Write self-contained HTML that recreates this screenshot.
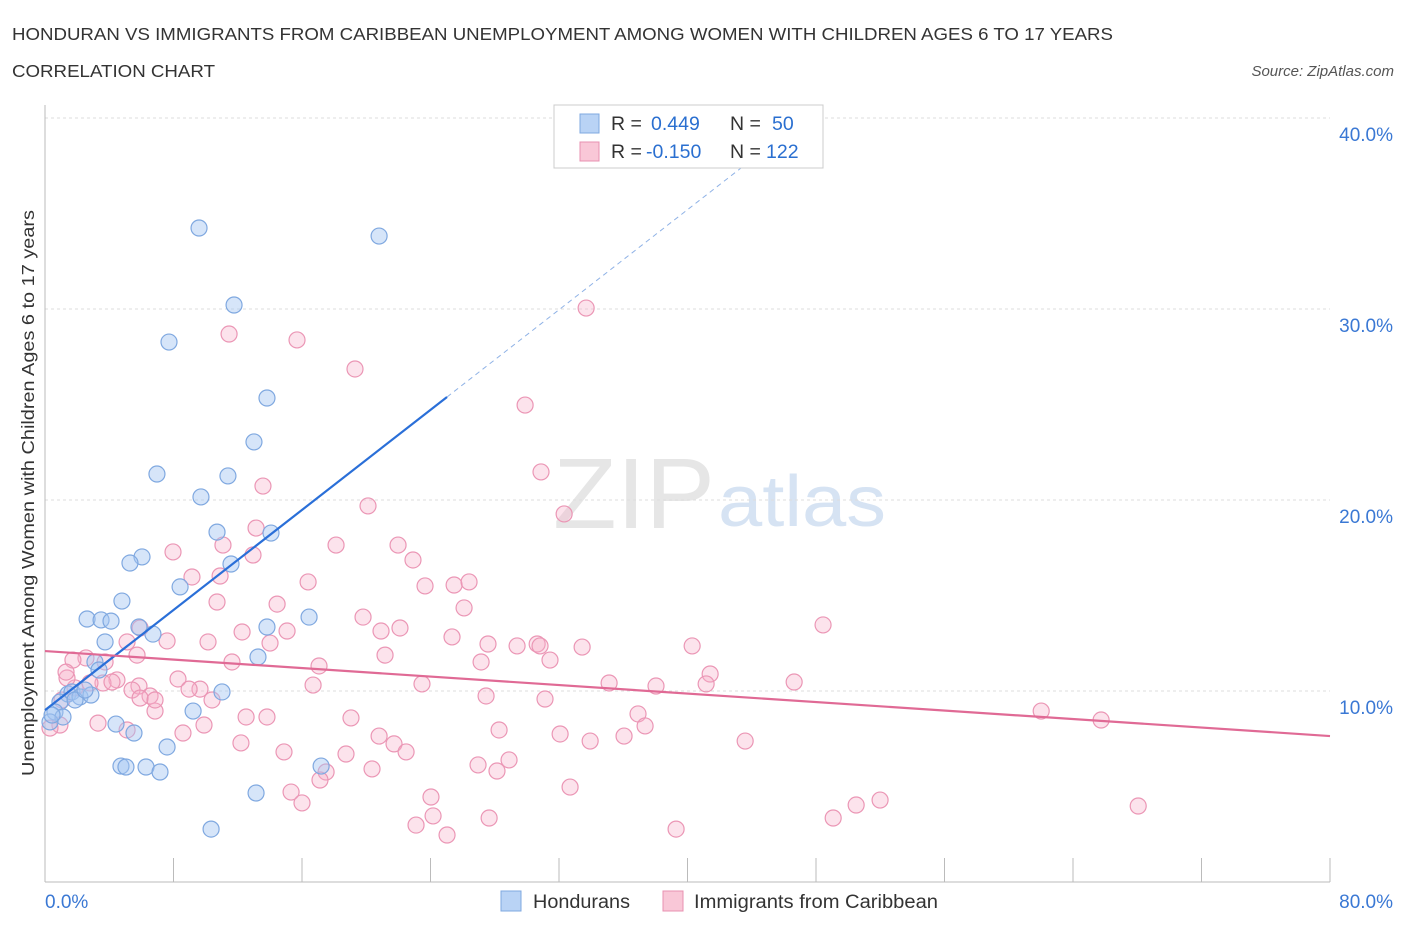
<!DOCTYPE html>
<html><head><meta charset="utf-8"><style>
body{margin:0;background:#fff;font-family:"Liberation Sans",sans-serif}
svg text{font-family:"Liberation Sans",sans-serif}
</style></head><body>
<svg id="c" width="1406" height="930">
<text x="12" y="40" font-size="17.5" fill="#333" textLength="1101" lengthAdjust="spacingAndGlyphs">HONDURAN VS IMMIGRANTS FROM CARIBBEAN UNEMPLOYMENT AMONG WOMEN WITH CHILDREN AGES 6 TO 17 YEARS</text>
<text x="12" y="77" font-size="17.5" fill="#333" textLength="203" lengthAdjust="spacingAndGlyphs">CORRELATION CHART</text>
<text x="1394" y="76" font-size="15" fill="#555" font-style="italic" text-anchor="end">Source: ZipAtlas.com</text>
<text x="553" y="528" font-size="100" fill="#e6e6e6" font-family="Liberation Serif" textLength="162" lengthAdjust="spacingAndGlyphs">ZIP</text>
<text x="718" y="526" font-size="72" fill="#d6e3f3" textLength="168" lengthAdjust="spacingAndGlyphs">atlas</text>
<text transform="translate(34,493) rotate(-90)" font-size="17.5" fill="#333" text-anchor="middle" textLength="566" lengthAdjust="spacingAndGlyphs">Unemployment Among Women with Children Ages 6 to 17 years</text>
<g id="grid"></g><g id="marks"></g>
<g>
<rect x="554" y="105" width="269" height="63" fill="#fff" stroke="#ccc"/>
<rect x="580" y="114" width="19" height="19" fill="#b9d3f5" stroke="#7fa8e0"/>
<rect x="580" y="142" width="19" height="19" fill="#f9c7d7" stroke="#e890b0"/>
<text x="611" y="130" font-size="19.5" fill="#333">R =</text>
<text x="651" y="130" font-size="19.5" fill="#2a6fd0">0.449</text>
<text x="730" y="130" font-size="19.5" fill="#333">N =</text>
<text x="772" y="130" font-size="19.5" fill="#2a6fd0">50</text>
<text x="611" y="158" font-size="19.5" fill="#333">R =</text>
<text x="646" y="158" font-size="19.5" fill="#2a6fd0">-0.150</text>
<text x="730" y="158" font-size="19.5" fill="#333">N =</text>
<text x="766" y="158" font-size="19.5" fill="#2a6fd0">122</text>
</g>
<g>
<rect x="501" y="891" width="20" height="20" fill="#b9d3f5" stroke="#7fa8e0"/>
<text x="533" y="908" font-size="19" fill="#333" textLength="97" lengthAdjust="spacingAndGlyphs">Hondurans</text>
<rect x="663" y="891" width="20" height="20" fill="#f9c7d7" stroke="#e890b0"/>
<text x="694" y="908" font-size="19" fill="#333" textLength="244" lengthAdjust="spacingAndGlyphs">Immigrants from Caribbean</text>
</g>
</svg>
<script>
const xTicks=[0,8,16,24,32,40,48,56,64,72,80];
const yTicks=[10,20,30,40];
const blueX=[9.59,20.8,11.77,7.72,13.82,13.01,6.97,11.39,9.71,10.71,14.07,11.58,6.04,5.29,8.41,4.79,2.62,3.49,4.11,16.44,13.82,5.85,6.72,3.74,13.26,3.11,3.36,1.43,0.93,1.68,2.18,0.62,1.12,0.31,11.02,9.22,4.42,5.54,7.60,4.73,5.04,6.29,7.16,17.19,13.14,10.34,2.86,1.87,2.49,0.44];
const blueY=[34.24,33.82,30.21,28.27,25.34,23.04,21.36,21.26,20.16,18.32,18.27,16.65,17.02,16.70,15.45,14.71,13.77,13.72,13.66,13.87,13.35,13.35,12.98,12.57,11.78,11.52,11.10,9.84,9.42,9.95,9.69,8.90,8.64,8.38,9.95,8.95,8.27,7.80,7.07,6.07,6.02,6.02,5.76,6.07,4.66,2.77,9.79,9.53,10.05,8.74];
const pinkX=[33.69,11.46,15.69,19.30,29.89,30.88,13.57,20.11,32.32,13.14,11.08,18.12,21.98,7.97,12.95,22.91,10.90,9.15,16.38,25.47,26.40,23.66,26.09,10.71,14.45,19.80,48.44,5.92,12.27,20.92,22.10,15.07,25.34,7.60,5.11,29.39,30.64,33.44,40.29,10.15,14.01,27.58,30.82,2.55,11.64,17.06,21.17,27.15,31.44,1.74,5.73,3.74,41.41,46.64,35.12,38.04,8.28,4.48,23.47,16.69,9.65,5.85,6.54,27.46,31.13,8.97,5.42,3.61,10.40,41.16,62.02,65.75,36.92,37.36,6.85,12.52,13.82,19.05,28.27,32.07,33.94,36.05,43.59,9.90,3.30,5.11,12.20,20.80,21.73,22.48,18.74,14.88,8.59,26.96,28.89,28.14,20.36,17.50,17.12,32.69,15.32,16.00,24.03,24.16,23.10,27.65,25.03,39.29,49.07,50.50,51.99,68.06,0.93,0.31,1.06,1.87,2.80,1.37,4.17,5.92,6.85,1.31];
const pinkY=[30.05,28.69,28.38,26.86,24.97,21.47,20.73,19.69,19.27,18.53,17.64,17.64,17.64,17.28,17.12,16.86,16.02,15.97,15.71,15.55,15.71,15.50,14.35,14.66,14.55,13.87,13.46,13.30,13.09,13.14,13.30,13.14,12.83,12.62,12.57,12.36,12.46,12.30,12.36,12.57,12.51,12.46,12.36,11.73,11.52,11.31,11.88,11.52,11.62,11.62,11.88,11.52,10.89,10.47,10.42,10.26,10.63,10.58,10.37,10.31,10.10,10.26,9.74,9.74,9.58,10.10,10.05,10.42,9.53,10.37,8.95,8.48,8.80,8.17,8.95,8.64,8.64,8.59,7.96,7.75,7.38,7.64,7.38,8.22,8.32,7.96,7.28,7.64,7.23,6.81,6.70,6.81,7.80,6.13,6.39,5.81,5.92,5.76,5.34,4.97,4.71,4.14,4.45,3.46,2.98,3.35,2.46,2.77,3.35,4.03,4.29,3.98,8.22,8.06,9.53,10.16,10.42,10.68,10.47,9.63,9.53,10.99];
const blueTrend=[9.0,0.655,25.03,44];   // intercept, slope, solid end x, dashed end x
const pinkTrend=[12.09,-0.0556];
const X=v=>45+v*(1285/80), Y=v=>882-v*19.1;
const NS='http://www.w3.org/2000/svg';
function mk(t,a,p){const e=document.createElementNS(NS,t);for(const k in a)e.setAttribute(k,a[k]);p.appendChild(e);return e;}
const g=document.getElementById('grid'),m=document.getElementById('marks');
yTicks.forEach(v=>{
 const l=mk('line',{x1:45,x2:1330,y1:Y(v),y2:Y(v),stroke:'#ddd','stroke-dasharray':'3,3'},g);
 
 const t=mk('text',{x:1393,y:Y(v)+23,'font-size':19,fill:'#3a78d4','text-anchor':'end'},g);t.textContent=v.toFixed(1)+'%';
 
});
const ax=mk('line',{x1:45,x2:1330,y1:882,y2:882,stroke:'#bbb'},g);

const ay=mk('line',{x1:45,x2:45,y1:105,y2:882,stroke:'#bbb'},g);

xTicks.forEach(v=>{const l=mk('line',{x1:X(v),x2:X(v),y1:858,y2:882,stroke:'#bbb'},g);
 });
[[0,'start',45],[80,'end',1393]].forEach(([v,a,x])=>{const t=mk('text',{x:x,y:908,'font-size':19,fill:'#3a78d4','text-anchor':a},g);t.textContent=v.toFixed(1)+'%';
 });
pinkX.forEach((v,i)=>{const c=mk('circle',{cx:X(v),cy:Y(pinkY[i]),r:8,fill:'rgba(246,175,200,0.35)',stroke:'#eb96b5','stroke-width':1.2},m);
 });
blueX.forEach((v,i)=>{const c=mk('circle',{cx:X(v),cy:Y(blueY[i]),r:8,fill:'rgba(165,198,242,0.45)',stroke:'#7fa8e0','stroke-width':1.2},m);
 });
const b=blueTrend;
let l=mk('line',{x1:X(0),y1:Y(b[0]),x2:X(b[2]),y2:Y(b[0]+b[1]*b[2]),stroke:'#2a6fd8','stroke-width':2.2},m);

l=mk('line',{x1:X(b[2]),y1:Y(b[0]+b[1]*b[2]),x2:X(b[3]),y2:Y(b[0]+b[1]*b[3]),stroke:'#8fb2e6','stroke-width':1,'stroke-dasharray':'5,4'},m);

l=mk('line',{x1:X(0),y1:Y(pinkTrend[0]),x2:X(80),y2:Y(pinkTrend[0]+pinkTrend[1]*80),stroke:'#e06a95','stroke-width':2.2},m);

</script>
</body></html>
